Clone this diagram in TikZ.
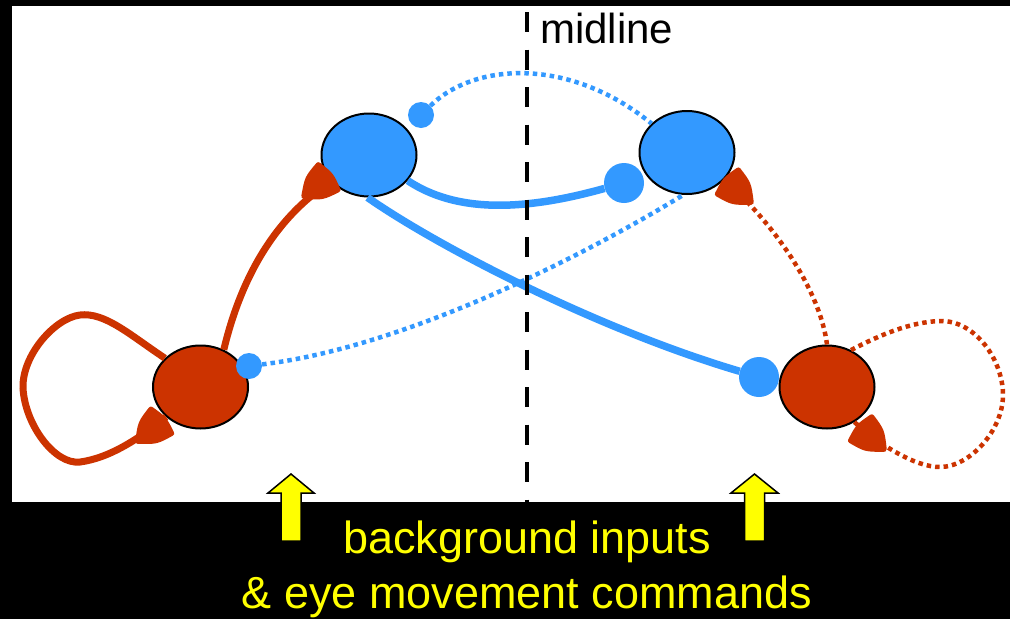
\documentclass[tikz,border=0pt]{standalone}
\usepackage{fontspec}
\setmainfont{Liberation Sans}
\usetikzlibrary{shapes.geometric}
\definecolor{nblue}{HTML}{3399FF}
\definecolor{nred}{HTML}{CC3300}
\definecolor{ayellow}{HTML}{FFFF00}
\begin{document}
\begin{tikzpicture}[x=1pt,y=-1pt,
  cell/.style={ellipse, draw=black, line width=2pt, minimum width=95pt, minimum height=83pt, inner sep=0pt},
  bluecell/.style={cell, fill=nblue},
  redcell/.style={cell, fill=nred},
  bigknob/.style={circle, fill=nblue, minimum size=40pt, inner sep=0pt},
  smallknob/.style={circle, fill=nblue, minimum size=26pt, inner sep=0pt},
  inhsolid/.style={nblue, line width=7.5pt},
  inhdot/.style={nblue, line width=4.5pt, dash pattern=on 4.5pt off 4pt},
  excsolid/.style={nred, line width=7pt},
  excdot/.style={nred, line width=4.5pt, dash pattern=on 4.5pt off 4pt},
  synhead/.pic={\filldraw[nred, line width=5pt, line join=round]
     (1,0) .. controls (15,-12.5) .. (32,-16) .. controls (36,0) .. (32,16) .. controls (15,12.5) .. cycle;},
  midstyle/.style={black, line width=4.5pt, dash pattern=on 20pt off 17.5pt},
  bigtext/.style={anchor=base, inner sep=0pt, text=ayellow, font=\fontsize{45}{54}\selectfont},
  uparrow/.style={fill=ayellow, draw=black, line width=1.5pt, line join=miter}
]
\useasboundingbox (0,0) rectangle (1010,619);
\fill[black] (0,0) rectangle (1010,619);
\fill[white] (12,6) rectangle (1010,502);

% cells
\node[bluecell] (TL) at (369,155) {};
\node[bluecell] (TR) at (687,152.5) {};
\node[redcell]  (BL) at (200.5,387) {};
\node[redcell]  (BR) at (827,387) {};

% inhibitory terminals
\node[smallknob] (c1) at (421,115) {};
\node[bigknob]   (c2) at (624,183) {};
\node[bigknob]   (c3) at (759,377) {};
\node[smallknob] (c4) at (249,366) {};

% inhibitory connections
\draw[inhdot] (c1) .. controls (475,62) and (570,57) .. (TR);
\draw[inhsolid] (TL) .. controls (455,212) and (520,212) .. (c2);
\draw[inhsolid] (TL.268) .. controls (440,248) and (600,330) .. (c3);
\draw[inhdot] (c4) .. controls (420,345) and (610,240) .. (TR.265);

% excitatory connections
\draw[excsolid] (BL.58) .. controls (238,290) and (268,222) .. (TL.215);
\draw[excsolid] (BL.141) .. controls (130,335) and (105,312) .. (80,315)
  .. controls (55,318) and (22,355) .. (23,388)
  .. controls (25,425) and (55,465) .. (80,462)
  .. controls (110,458) and (140,438) .. (BL.221);
\draw[excdot] (BR.90) .. controls (820,290) and (775,225) .. (TR.324);
\draw[excdot] (BR.57) .. controls (880,335) and (910,322) .. (940,321)
  .. controls (975,320) and (1003,360) .. (1003,395)
  .. controls (1003,430) and (970,467) .. (940,467)
  .. controls (915,467) and (880,445) .. (BR.308);

% excitatory synapse heads
\pic[rotate=38.1] at (303,197) {synhead};
\pic[rotate=40.5] at (137,442) {synhead};
\pic[rotate=139] at (752,203) {synhead};
\pic[rotate=138.3] at (885,450) {synhead};

% midline
\coordinate (mtop) at (527,12);
\coordinate (mbot) at (527,502);
\draw[midstyle] (mtop) -- (mbot);
\node[anchor=base west, inner sep=0pt, font=\fontsize{42}{50}\selectfont] (lbl) at (540,43) {midline};

% input arrows
\draw[uparrow] (291,474) -- (314,493) -- (301,493) -- (301,541) -- (281,541) -- (281,493) -- (268,493) -- cycle;
\draw[uparrow] (754.5,474) -- (778,493) -- (764.5,493) -- (764.5,541) -- (744.5,541) -- (744.5,493) -- (731,493) -- cycle;

% caption
\node[bigtext] (t1) at (527,553) {background inputs};
\node[bigtext] (t2) at (527,608) {\& eye movement commands};
\end{tikzpicture}
\end{document}
